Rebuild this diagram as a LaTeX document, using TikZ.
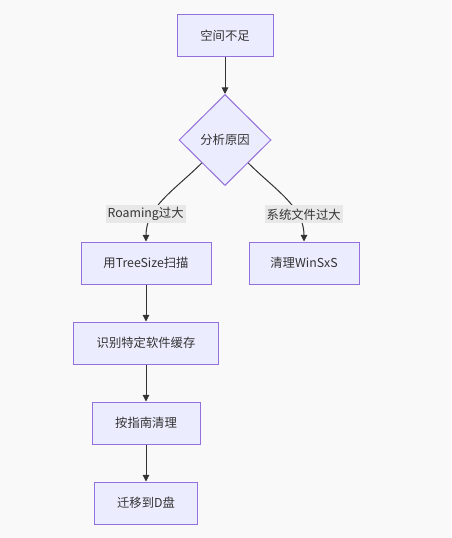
\documentclass[tikz,border=0pt]{standalone}
\usepackage{fontspec}
\setmainfont{Noto Sans CJK SC}
\usetikzlibrary{arrows.meta, positioning, shapes.geometric}
\definecolor{boxfill}{HTML}{ECECFF}
\definecolor{boxline}{HTML}{9370DB}
\definecolor{edgeline}{HTML}{333333}
\definecolor{labelfill}{HTML}{E8E8E8}
\definecolor{canvas}{HTML}{F9F9F9}
\begin{document}
\begin{tikzpicture} [%
    ->,
    >= { Triangle[length=5pt, width=5pt] },
    node distance = 60pt,
    on grid,
    line width = 0.75pt,
    edgeline,
    font = \fontsize{9.25}{11}\selectfont,
    stepbox/.style = {%
      rectangle,
      fill = boxfill,
      draw = boxline,
      text = edgeline,
      minimum height = 31.5pt,
      inner sep = 2pt },
    choice/.style = {%
      diamond,
      fill = boxfill,
      draw = boxline,
      text = edgeline,
      minimum width = 69pt,
      minimum height = 68.25pt,
      inner sep = 0pt },
    tag/.style = {%
      fill = labelfill,
      text = edgeline,
      inner sep = 1.5pt,
      minimum height = 13.5pt }
  ]

  \useasboundingbox[fill=canvas] (0,0) rectangle (338.25pt,-403.5pt);

  \node[stepbox, minimum width=72pt] (S) at (168.75pt,-27pt) {空间不足};
  \node[choice] (D) [below=78pt of S] {分析原因};
  \node[stepbox, minimum width=97.5pt] (T) [below left=92.25pt and 59.25pt of D] {用TreeSize扫描};
  \node[stepbox, minimum width=82.5pt] (W) [below right=92.25pt and 59.25pt of D] {清理WinSxS};
  \node[stepbox, minimum width=108.75pt] (C) [below=of T] {识别特定软件缓存};
  \node[stepbox, minimum width=81pt] (G) [below=of C] {按指南清理};
  \node[stepbox, minimum width=77.25pt] (M) [below=of G] {迁移到D盘};

  \path
  (S) edge (D)
  (T) edge (C)
  (C) edge (G)
  (G) edge (M);

  % the two branches bend late, as in the sketch
  \draw (D.south west) .. controls +(-20pt,-20pt) and +(0,26pt) ..
    node[tag, pos=0.7, xshift=-5.5pt] {Roaming过大} (T.north);
  \draw (D.south east) .. controls +(20pt,-20pt) and +(0,26pt) ..
    node[tag, pos=0.7, xshift=5pt] {系统文件过大} (W.north);

\end{tikzpicture}
\end{document}
